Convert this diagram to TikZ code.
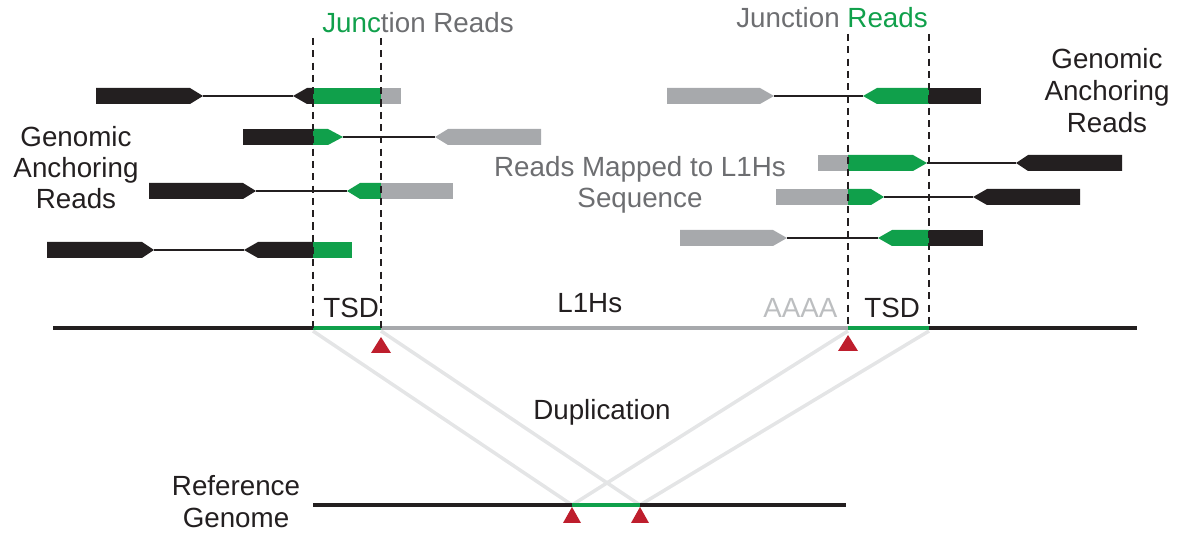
\documentclass[tikz,border=0pt]{standalone}
\usepackage{fontspec}
\setmainfont{Liberation Sans}
\definecolor{grn}{RGB}{16,160,75}
\definecolor{blk}{RGB}{35,31,32}
\definecolor{gbar}{RGB}{167,169,172}
\definecolor{txtgray}{RGB}{109,110,113}
\definecolor{aaaa}{RGB}{188,190,192}
\definecolor{crossc}{RGB}{228,229,230}
\definecolor{redt}{RGB}{190,30,45}
\newcommand{\rbar}[4]{% color, x1, x2, y : plain rectangle
  \fill[#1] (#2,#4-8) rectangle (#3,#4+8);}
\newcommand{\rarr}[5]{% color, x1, x2, tip, y : right-pointing
  \fill[#1] (#2,#5-8) -- (#3,#5-8) -- (#4,#5) -- (#3,#5+8) -- (#2,#5+8) -- cycle;}
\newcommand{\larr}[5]{% color, tip, x1, x2, y : left-pointing
  \fill[#1] (#2,#5) -- (#3,#5-8) -- (#4,#5-8) -- (#4,#5+8) -- (#3,#5+8) -- cycle;}
\newcommand{\rline}[3]{\draw[readline] (#1,#3) -- (#2,#3);}
\tikzset{
  txt/.style={inner sep=0pt, font=\fontsize{15.8}{18}\selectfont, anchor=base},
  readline/.style={blk, line width=0.9pt},
  mainline/.style={line width=1.8pt},
  crossline/.style={crossc, line width=2pt},
  dashline/.style={blk, line width=0.9pt, dash pattern=on 4pt off 3pt},
  tri/.style={fill=redt}
}
\begin{document}
\begin{tikzpicture}[x=0.02cm,y=-0.02cm]
\useasboundingbox (0,0) rectangle (1181,533);
% named coordinates
\coordinate (tsdLa) at (313,328);
\coordinate (tsdLb) at (381,328);
\coordinate (tsdRa) at (848,328);
\coordinate (tsdRb) at (929,328);
\coordinate (mainL) at (53,328);
\coordinate (mainR) at (1137,328);
\coordinate (refL) at (313,505);
\coordinate (refR) at (846,505);
\coordinate (refA) at (572,505);
\coordinate (refB) at (640,505);
% crossing lines
\draw[crossline] ([yshift=-0.06cm]tsdLa) -- (refA);
\draw[crossline] ([yshift=-0.06cm]tsdLb) -- (refB);
\draw[crossline] ([yshift=-0.06cm]tsdRa) -- (refA);
\draw[crossline] ([yshift=-0.06cm]tsdRb) -- (refB);
% main line
\draw[mainline, blk] (mainL) -- (tsdLa);
\draw[mainline, grn] (tsdLa) -- (tsdLb);
\draw[mainline, gbar] (tsdLb) -- (tsdRa);
\draw[mainline, grn] (tsdRa) -- (tsdRb);
\draw[mainline, blk] (tsdRb) -- (mainR);
% reference line
\draw[mainline, blk] (refL) -- (refA);
\draw[mainline, grn] (refA) -- (refB);
\draw[mainline, blk] (refB) -- (refR);
% triangles
\fill[tri] (381,337) -- (391,353) -- (371,353) -- cycle;
\fill[tri] (848,335) -- (858,351) -- (838,351) -- cycle;
\fill[tri] (572,507) -- (581,523) -- (563,523) -- cycle;
\fill[tri] (640,507) -- (649,523) -- (631,523) -- cycle;
% left reads
\rline{203}{293}{96}
\rarr{blk}{96}{190}{203}{96}
\larr{blk}{293}{307}{313}{96}
\rbar{grn}{313}{381}{96}
\rbar{gbar}{381}{401}{96}

\rline{343}{435}{137}
\rbar{blk}{243}{313}{137}
\rarr{grn}{313}{328}{343}{137}
\larr{gbar}{435}{448}{541}{137}

\rline{256}{347}{191}
\rarr{blk}{149}{243}{256}{191}
\larr{grn}{347}{360}{381}{191}
\rbar{gbar}{381}{453}{191}

\rline{154}{244}{250}
\rarr{blk}{47}{142}{154}{250}
\larr{blk}{244}{258}{313}{250}
\rbar{grn}{313}{352}{250}
% right reads
\rline{774}{863}{96}
\rarr{gbar}{667}{760}{774}{96}
\larr{grn}{863}{877}{929}{96}
\rbar{blk}{929}{981}{96}

\rline{927}{1016}{163}
\rbar{gbar}{818}{848}{163}
\rarr{grn}{848}{913}{927}{163}
\larr{blk}{1016}{1028}{1122}{163}

\rline{884}{973}{197}
\rbar{gbar}{776}{848}{197}
\rarr{grn}{848}{871}{884}{197}
\larr{blk}{973}{987}{1080}{197}

\rline{787}{878}{238}
\rarr{gbar}{680}{773}{787}{238}
\larr{grn}{878}{892}{929}{238}
\rbar{blk}{929}{983}{238}
% dashed lines
\coordinate (dLa) at (313,38);
\coordinate (dLb) at (381,38);
\coordinate (dRa) at (848,34);
\coordinate (dRb) at (929,34);
\draw[dashline] (dLa) -- (tsdLa);
\draw[dashline] (dLb) -- (tsdLb);
\draw[dashline] (dRa) -- (tsdRa);
\draw[dashline] (dRb) -- (tsdRb);
% texts
\node[txt, anchor=base west, text=txtgray] (jrL) at (322,33) {\textcolor{grn}{Junc}tion Reads};
\node[txt, anchor=base west, text=txtgray] (jrR) at (736,28) {Junction \textcolor{grn}{Reads}};
\node[txt, text=blk] (gaL1) at (76,147) {Genomic};
\node[txt, text=blk] (gaL2) at (76,178) {Anchoring};
\node[txt, text=blk] (gaL3) at (76,209) {Reads};
\node[txt, text=blk] (gaR1) at (1107,69) {Genomic};
\node[txt, text=blk] (gaR2) at (1107,101) {Anchoring};
\node[txt, text=blk] (gaR3) at (1107,133) {Reads};
\node[txt, text=txtgray] (rm1) at (640,177) {Reads Mapped to L1Hs};
\node[txt, text=txtgray] (rm2) at (640,208) {Sequence};
\node[txt, anchor=base west, text=blk] (tsdL) at (323,318) {TSD};
\node[txt, anchor=base west, text=blk] (tsdR) at (864,318) {TSD};
\node[txt, anchor=base west, text=aaaa] (aaaa) at (763,318) {AAAA};
\node[txt, anchor=base west, text=blk] (l1hs) at (557,313) {L1Hs};
\node[txt, text=blk] (dup) at (602,420) {Duplication};
\node[txt, text=blk] (ref1) at (236,496) {Reference};
\node[txt, text=blk] (ref2) at (236,528) {Genome};
\end{tikzpicture}
\end{document}
